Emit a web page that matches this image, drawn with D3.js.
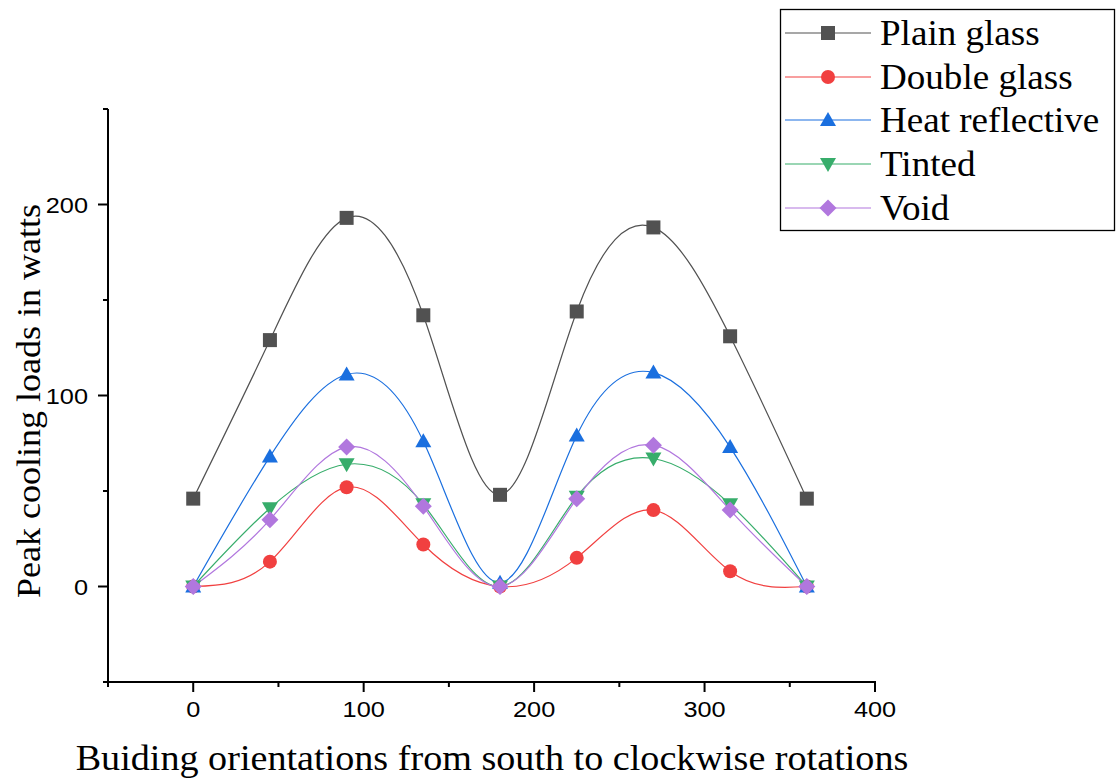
<!DOCTYPE html>
<html><head><meta charset="utf-8">
<script src="https://cdn.jsdelivr.net/npm/d3@7"></script>
<style>body{margin:0;background:#fff}</style>
</head><body>
<svg id="chart" width="1117" height="778"></svg>
<script>
const angles = [0, 45, 90, 135, 180, 225, 270, 315, 360];
const plainGlass = [46, 129, 193, 142, 48, 144, 188, 131, 46];
const doubleGlass = [0, 13, 52, 22, 0, 15, 40, 8, 0];
const heatReflective = [0, 68, 111, 76, 2, 79, 112, 73, 0];
const tinted = [0, 41, 64, 43, 0, 47, 67, 43, 0];
const voidSeries = [0, 35, 73, 42, 0, 46, 74, 40, 0];
const seriesNames = ["Plain glass", "Double glass", "Heat reflective", "Tinted", "Void"];
const xTicks = [0, 100, 200, 300, 400];
const yTicks = [0, 100, 200];

const colors = ["#515151", "#F14040", "#1A6FDF", "#37AD6B", "#B177DE"];
const symbols = ["square", "circle", "up", "down", "diamond"];
const allSeries = [plainGlass, doubleGlass, heatReflective, tinted, voidSeries];

const svg = d3.select("#chart");
const x = d3.scaleLinear().domain([-50, 400]).range([108, 875]);
const y = d3.scaleLinear().domain([-50, 250]).range([682, 109]);

const sansFont = "Liberation Sans, Arial, sans-serif";
const serifFont = "Liberation Serif, Times New Roman, serif";

function drawMarker(g, type, cx, cy, color) {
  const s = 7;
  if (type === "square") {
    g.append("rect").attr("x", cx - s).attr("y", cy - s).attr("width", 2*s).attr("height", 2*s).attr("fill", color);
  } else if (type === "circle") {
    g.append("circle").attr("cx", cx).attr("cy", cy).attr("r", s).attr("fill", color);
  } else if (type === "up") {
    g.append("path").attr("d", `M${cx},${cy-8}L${cx+8},${cy+6}L${cx-8},${cy+6}Z`).attr("fill", color);
  } else if (type === "down") {
    g.append("path").attr("d", `M${cx},${cy+8}L${cx+8},${cy-6}L${cx-8},${cy-6}Z`).attr("fill", color);
  } else if (type === "diamond") {
    g.append("path").attr("d", `M${cx},${cy-8.5}L${cx+8.5},${cy}L${cx},${cy+8.5}L${cx-8.5},${cy}Z`).attr("fill", color);
  }
}

// Axes
const xMinor = [-50, 50, 150, 250, 350];
const yMinor = [-50, 50, 150, 250];
const axisG = svg.append("g").attr("stroke", "#000").attr("stroke-width", 2);
axisG.append("line").attr("x1", x(-50) - 1).attr("x2", x(400) + 1).attr("y1", y(-50)).attr("y2", y(-50));
axisG.append("line").attr("x1", x(-50)).attr("x2", x(-50)).attr("y1", y(-50) + 1).attr("y2", y(250));
xTicks.forEach(t => axisG.append("line").attr("x1", x(t)).attr("x2", x(t)).attr("y1", y(-50)).attr("y2", y(-50) + 10));
xMinor.forEach(t => axisG.append("line").attr("x1", x(t)).attr("x2", x(t)).attr("y1", y(-50)).attr("y2", y(-50) + 5));
yTicks.forEach(t => axisG.append("line").attr("x1", x(-50)).attr("x2", x(-50) - 10).attr("y1", y(t)).attr("y2", y(t)));
yMinor.forEach(t => axisG.append("line").attr("x1", x(-50)).attr("x2", x(-50) - 5).attr("y1", y(t)).attr("y2", y(t)));

svg.append("g").selectAll("text").data(xTicks).join("text")
  .attr("transform", d => `translate(${x(d)},${y(-50) + 35}) scale(1.15,1)`).attr("text-anchor", "middle")
  .attr("font-family", sansFont).attr("font-size", 22).text(d => d);
svg.append("g").selectAll("text").data(yTicks).join("text")
  .attr("transform", d => `translate(${x(-50) - 20},${y(d) + 8.5}) scale(1.15,1)`).attr("text-anchor", "end")
  .attr("font-family", sansFont).attr("font-size", 22).text(d => d);

svg.append("text").attr("transform", "translate(492,770) scale(1.06,1)").attr("text-anchor", "middle")
  .attr("font-family", serifFont).attr("font-size", 36)
  .text("Buiding orientations from south to clockwise rotations");
svg.append("text").attr("transform", "translate(40,401) rotate(-90) scale(1.06,1)").attr("text-anchor", "middle")
  .attr("font-family", serifFont).attr("font-size", 34)
  .text("Peak cooling loads in watts");

// Series
const line = d3.line().x(d => x(d[0])).y(d => y(d[1])).curve(d3.curveNatural);
allSeries.forEach((vals, i) => {
  const pts = angles.map((a, j) => [a, vals[j]]);
  svg.append("path").attr("d", line(pts)).attr("fill", "none").attr("stroke", colors[i]).attr("stroke-width", 1.2);
});
allSeries.forEach((vals, i) => {
  const g = svg.append("g");
  angles.forEach((a, j) => drawMarker(g, symbols[i], x(a), y(vals[j]), colors[i]));
});

// Legend
const lg = svg.append("g");
lg.append("rect").attr("x", 780.5).attr("y", 9.5).attr("width", 334).attr("height", 221)
  .attr("fill", "#fff").attr("stroke", "#000").attr("stroke-width", 1.3);
const rowY = [33, 77, 120, 164, 208];
seriesNames.forEach((name, i) => {
  lg.append("line").attr("x1", 785).attr("x2", 871).attr("y1", rowY[i]).attr("y2", rowY[i])
    .attr("stroke", colors[i]).attr("stroke-width", 1.2);
  drawMarker(lg, symbols[i], 828, rowY[i], colors[i]);
  lg.append("text").attr("transform", `translate(880,${rowY[i] + 12}) scale(1.06,1)`)
    .attr("font-family", serifFont).attr("font-size", 35).text(name);
});
</script>
</body></html>
